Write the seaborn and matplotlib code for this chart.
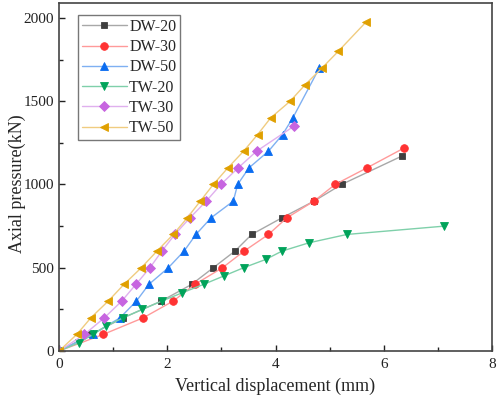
import numpy as np
import pandas as pd
import matplotlib
matplotlib.use('Agg')
import matplotlib.pyplot as plt
from matplotlib.ticker import MultipleLocator
import seaborn as sns

# Load-displacement curves
dw20_x = [0, 0.60, 1.19, 1.89, 2.45, 2.85, 3.25, 3.56, 4.12, 4.71, 5.22, 6.33]
dw20_y = [0, 100, 200, 300, 400, 500, 600, 700, 800, 900, 1000, 1170]

dw30_x = [0, 0.82, 1.56, 2.11, 2.51, 3.02, 3.42, 3.87, 4.21, 4.71, 5.10, 5.69, 6.38]
dw30_y = [0, 100, 200, 300, 400, 500, 600, 700, 800, 900, 1000, 1100, 1220]

dw50_x = [0, 0.62, 1.13, 1.43, 1.66, 2.02, 2.31, 2.53, 2.81, 3.22, 3.30, 3.51, 3.87, 4.13, 4.32, 4.81]
dw50_y = [0, 100, 200, 300, 400, 500, 600, 700, 800, 900, 1000, 1100, 1200, 1300, 1400, 1700]

tw20_x = [0, 0.37, 0.63, 0.87, 1.19, 1.54, 1.90, 2.28, 2.67, 3.04, 3.41, 3.82, 4.12, 4.62, 5.32, 7.12]
tw20_y = [0, 50, 100, 150, 200, 250, 300, 350, 400, 450, 500, 550, 600, 650, 700, 750]

tw30_x = [0, 0.47, 0.84, 1.16, 1.42, 1.68, 1.90, 2.14, 2.42, 2.72, 2.99, 3.31, 3.65, 4.34]
tw30_y = [0, 100, 200, 300, 400, 500, 600, 700, 800, 900, 1000, 1100, 1200, 1350]

tw50_x = [0, 0.33, 0.59, 0.91, 1.20, 1.52, 1.81, 2.11, 2.37, 2.61, 2.85, 3.12, 3.41, 3.67, 3.91,
          4.27, 4.55, 4.86, 5.16, 5.67]
tw50_y = [0, 100, 200, 300, 400, 500, 600, 700, 800, 900, 1000, 1100, 1200, 1300, 1400,
          1500, 1600, 1700, 1800, 1975]

series_names = ['DW-20', 'DW-30', 'DW-50', 'TW-20', 'TW-30', 'TW-50']
xs = [dw20_x, dw30_x, dw50_x, tw20_x, tw30_x, tw50_x]
ys = [dw20_y, dw30_y, dw50_y, tw20_y, tw30_y, tw50_y]

# marker colour, line colour, marker, size
styles = {
    'DW-20': ('#3f3f3f', '#a8a8a8', 's', 5.0),
    'DW-30': ('#ff3333', '#ff9a9a', 'o', 5.5),
    'DW-50': ('#0a6cf0', '#7fb0f2', '^', 6.0),
    'TW-20': ('#00a35a', '#7fd0aa', 'v', 6.0),
    'TW-30': ('#c765e0', '#e0b0ee', 'D', 5.0),
    'TW-50': ('#e0a000', '#f0cc80', '<', 6.0),
}

frames = []
for name, x, y in zip(series_names, xs, ys):
    frames.append(pd.DataFrame({'disp': x, 'load': y, 'series': name}))
data = pd.concat(frames, ignore_index=True)

sns.set_style('ticks')
plt.rcParams['font.family'] = ['Liberation Serif', 'DejaVu Serif']

fig = plt.figure(figsize=(4.98, 3.99), dpi=100)
ax = fig.add_axes([0.1185, 0.1203, 0.8695, 0.8722])

for name in series_names:
    mc, lc, mk, ms = styles[name]
    sub = data[data['series'] == name]
    sns.lineplot(data=sub, x='disp', y='load', ax=ax, sort=False, estimator=None,
                 color=lc, lw=1.0, marker=mk, markersize=ms,
                 markerfacecolor=mc, markeredgecolor=mc, markeredgewidth=0.6,
                 label=name)

ax.set_xlim(0, 8)
ax.set_ylim(0, 2090)
ax.xaxis.set_major_locator(MultipleLocator(2))
ax.xaxis.set_minor_locator(MultipleLocator(1))
ax.yaxis.set_major_locator(MultipleLocator(500))
ax.yaxis.set_minor_locator(MultipleLocator(250))
ax.tick_params(which='major', direction='in', length=4.5, width=1.0, labelsize=11,
               colors='#222222', top=False, right=False)
ax.tick_params(axis='x', which='major', pad=5)
ax.tick_params(which='minor', direction='in', length=3, width=1.0,
               colors='#222222', top=False, right=False)
for sp in ax.spines.values():
    sp.set_visible(True)
    sp.set_color('#444444')
    sp.set_linewidth(1.2)

ax.set_xlabel('Vertical displacement (mm)', fontsize=13, labelpad=5)
ax.set_ylabel('Axial pressure(kN)', fontsize=13)
ax.yaxis.set_label_coords(-0.077, 0.48)

leg = ax.legend(loc='upper left', bbox_to_anchor=(0.044, 0.966), fontsize=11.5,
                frameon=True, fancybox=False, edgecolor='#555555',
                handlelength=2.8, handletextpad=0.15, labelspacing=0.27,
                borderpad=0.25, borderaxespad=0.0)
leg.get_frame().set_linewidth(1.0)

fig.savefig('out.png', dpi=100)
